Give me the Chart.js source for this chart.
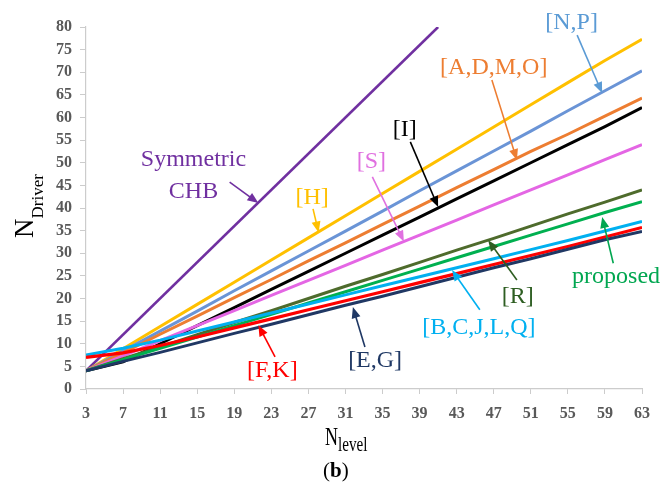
<!DOCTYPE html>
<html>
<head>
<meta charset="utf-8">
<script src="https://cdn.jsdelivr.net/npm/chart.js@4.4.1/dist/chart.umd.min.js"></script>
<style>
  html, body { margin: 0; padding: 0; background: #fff; }
  .chart { position: relative; width: 660px; height: 495px; }
</style>
</head>
<body>
<div class="chart"><canvas id="lineChart"></canvas></div>
<script>
//------------------------------------------------------------
// data
const levels = [3, 7, 11, 15, 19, 23, 27, 31, 35, 39, 43, 47, 51, 55, 59, 63];
const xTicks = [3, 7, 11, 15, 19, 23, 27, 31, 35, 39, 43, 47, 51, 55, 59, 63];

const symmetricLevels = [3, 41];
const symmetricCHB = [4, 80];

const seriesH = [4, 8.9, 13.8, 18.7, 23.6, 28.5, 33.4, 38.3, 43.2, 48.1, 53, 57.9, 62.8, 67.7, 72.6, 77.3];
const seriesNP = [4, 8.4, 12.8, 17.2, 21.7, 26.1, 30.5, 34.9, 39.3, 43.8, 48.2, 52.6, 57, 61.5, 65.9, 70.3];
const seriesADMO = [4, 8, 12.1, 16.1, 20.2, 24.2, 28.3, 32.3, 36.4, 40.4, 44.5, 48.5, 52.5, 56.3, 60.3, 64.3];
const seriesI = [4, 6, 10, 14, 18, 22, 26, 30, 34, 38, 42, 46, 50, 54, 58, 62.2];
const seriesS = [4, 7.3, 10.7, 14, 17.3, 20.7, 24, 27.3, 30.7, 34, 37.3, 40.7, 44, 47.3, 50.7, 54];
const seriesR = [4, 6.7, 9.3, 12, 14.7, 17.3, 20, 22.7, 25.3, 28, 30.7, 33.3, 36, 38.7, 41.3, 44];
const seriesProposed = [4, 6.5, 9, 11.5, 14, 16.5, 19, 21.5, 24, 26.5, 29, 31.5, 34, 36.5, 39, 41.4];
const seriesBCJLQ = [7.5, 9, 10.8, 12.8, 14.8, 16.8, 18.8, 20.8, 22.8, 24.8, 26.8, 28.8, 30.8, 32.8, 34.9, 37];
const seriesFK = [7, 8, 9.6, 11.5, 13.5, 15.5, 17.5, 19.5, 21.5, 23.5, 25.5, 27.5, 29.5, 31.5, 33.6, 35.7];
const seriesEG = [4, 6.1, 8.1, 10.2, 12.3, 14.3, 16.4, 18.5, 20.5, 22.6, 24.7, 26.8, 28.8, 30.9, 33, 34.8];

// labels with arrows, in data units: text anchor, arrow start, arrow tip
const notes = [
    { text: ['Symmetric', 'CHB'], color: '#7030A0', at: [14.6, 49.3], from: [18.5, 45.7], to: [21.6, 41.1] },
    { text: ['[H]'], color: '#FFC000', at: [27.4, 40.9], from: [27.5, 39.8], to: [28.1, 34.6] },
    { text: ['[S]'], color: '#E070E0', at: [33.8, 48.8], from: [33.9, 46.9], to: [37.3, 32.6] },
    { text: ['[I]'], color: '#000000', at: [37.4, 55.9], from: [38.0, 54.6], to: [41.0, 40.2] },
    { text: ['[A,D,M,O]'], color: '#ED7D31', at: [47.0, 69.6], from: [46.8, 68.3], to: [49.5, 50.6] },
    { text: ['[N,P]'], color: '#5B9BD5', at: [55.4, 79.6], from: [56.0, 78.2], to: [58.7, 65.4] },
    { text: ['[R]'], color: '#2E5E22', at: [49.6, 19.0], from: [49.5, 24.1], to: [46.4, 32.9] },
    { text: ['proposed'], color: '#00A650', at: [60.2, 23.4], from: [59.9, 27.8], to: [58.7, 38.0] },
    { text: ['[B,C,J,L,Q]'], color: '#00B0F0', at: [45.4, 12.2], from: [45.5, 17.5], to: [42.5, 26.3] },
    { text: ['[E,G]'], color: '#1F3864', at: [34.2, 4.9], from: [33.1, 9.3], to: [31.8, 18.1] },
    { text: ['[F,K]'], color: '#FF0000', at: [23.1, 2.7], from: [23.4, 7.1], to: [21.6, 14.1] },
];

//------------------------------------------------------------
const serif = '"Liberation Serif", "Times New Roman", serif';

function points(xs, ys) {
    return xs.map((x, i) => ({ x: x, y: ys[i] }));
}

function line(label, xs, ys, color, width) {
    return {
        label: label,
        data: points(xs, ys),
        borderColor: color,
        backgroundColor: color,
        borderWidth: width,
        pointRadius: 0,
        tension: 0,
        fill: false,
    };
}

function drawArrow(ctx, x1, y1, x2, y2, color) {
    const angle = Math.atan2(y2 - y1, x2 - x1);
    const head = 11, half = 4.5;
    ctx.strokeStyle = color;
    ctx.fillStyle = color;
    ctx.lineWidth = 1.6;
    ctx.beginPath();
    ctx.moveTo(x1, y1);
    ctx.lineTo(x2 - Math.cos(angle) * head * 0.8, y2 - Math.sin(angle) * head * 0.8);
    ctx.stroke();
    ctx.beginPath();
    ctx.moveTo(x2, y2);
    ctx.lineTo(x2 - Math.cos(angle) * head - Math.sin(angle) * half, y2 - Math.sin(angle) * head + Math.cos(angle) * half);
    ctx.lineTo(x2 - Math.cos(angle) * head + Math.sin(angle) * half, y2 - Math.sin(angle) * head - Math.cos(angle) * half);
    ctx.closePath();
    ctx.fill();
}

//----------------------------------
const notesPlugin = {
    id: 'notes',
    afterDatasetsDraw(chart) {
        const ctx = chart.ctx;
        const xs = chart.scales.x, ys = chart.scales.y;
        const area = chart.chartArea;
        ctx.save();

        notes.forEach(n => {
            ctx.font = '24px ' + serif;
            ctx.fillStyle = n.color;
            ctx.textAlign = 'center';
            ctx.textBaseline = 'alphabetic';
            const tx = xs.getPixelForValue(n.at[0]);
            const ty = ys.getPixelForValue(n.at[1]);
            n.text.forEach((t, i) => ctx.fillText(t, tx, ty + i * 32));
            drawArrow(ctx,
                xs.getPixelForValue(n.from[0]), ys.getPixelForValue(n.from[1]),
                xs.getPixelForValue(n.to[0]), ys.getPixelForValue(n.to[1]), n.color);
        });

        // y title: N with subscript Driver
        ctx.fillStyle = '#000';
        ctx.textAlign = 'left';
        ctx.save();
        ctx.translate(33, (area.top + area.bottom) / 2 + 30);
        ctx.rotate(-Math.PI / 2);
        ctx.font = '27px ' + serif;
        ctx.fillText('N', 0, 0);
        const nw = ctx.measureText('N').width;
        ctx.font = '17px ' + serif;
        ctx.fillText('Driver', nw, 10);
        ctx.restore();

        // x title: N with subscript level
        ctx.save();
        ctx.translate(325, 445);
        ctx.scale(0.72, 1);
        ctx.font = '25px ' + serif;
        ctx.fillText('N', 0, 0);
        const lw = ctx.measureText('N').width;
        ctx.font = '21px ' + serif;
        ctx.fillText('level', lw, 6);
        ctx.restore();

        // panel letter
        ctx.font = '21px ' + serif;
        ctx.fillText('(', 323, 477);
        let px = 323 + ctx.measureText('(').width;
        ctx.font = 'bold 21px ' + serif;
        ctx.fillText('b', px, 477);
        px += ctx.measureText('b').width;
        ctx.font = '21px ' + serif;
        ctx.fillText(')', px, 477);

        ctx.restore();
    }
};

//------------------------------------------------------------
const axisColor = '#CCCCCC';
const tickFont = { family: serif, size: 16, weight: 'bold' };

new Chart(document.getElementById('lineChart').getContext('2d'), {
    type: 'line',
    data: {
        datasets: [
            line('[E,G]', levels, seriesEG, '#203864', 3),
            line('[F,K]', levels, seriesFK, '#FF0000', 3.2),
            line('[B,C,J,L,Q]', levels, seriesBCJLQ, '#00B0F0', 3),
            line('proposed', levels, seriesProposed, '#00B050', 3),
            line('[R]', levels, seriesR, '#4E6B2C', 3),
            line('[S]', levels, seriesS, '#E466E4', 3),
            line('[I]', levels, seriesI, '#000000', 3),
            line('[A,D,M,O]', levels, seriesADMO, '#ED7D31', 3),
            line('[N,P]', levels, seriesNP, '#6A94D6', 3),
            line('[H]', levels, seriesH, '#FFC000', 3),
            line('Symmetric CHB', symmetricLevels, symmetricCHB, '#7030A0', 2.6),
        ],
    },
    options: {
        responsive: true,
        maintainAspectRatio: false,
        animation: false,
        layout: { padding: { top: 27, right: 18, left: 0, bottom: 0 } },
        plugins: {
            legend: { display: false },
            tooltip: { enabled: false },
        },
        scales: {
            x: {
                type: 'linear',
                min: 3,
                max: 63,
                afterBuildTicks: axis => { axis.ticks = xTicks.map(v => ({ value: v })); },
                afterFit: axis => { axis.height = 106; },
                grid: { drawOnChartArea: false, drawTicks: true, tickLength: 5, color: axisColor },
                border: { color: axisColor, width: 1.2 },
                ticks: { color: '#595959', font: tickFont, padding: 10, maxRotation: 0, autoSkip: false },
            },
            y: {
                min: 0,
                max: 80,
                afterFit: axis => { axis.width = 86; },
                grid: { drawOnChartArea: false, drawTicks: true, tickLength: 6, color: axisColor },
                border: { color: axisColor, width: 1.2 },
                ticks: { stepSize: 5, color: '#595959', font: tickFont, padding: 8 },
            },
        },
    },
    plugins: [notesPlugin],
});
</script>
</body>
</html>
